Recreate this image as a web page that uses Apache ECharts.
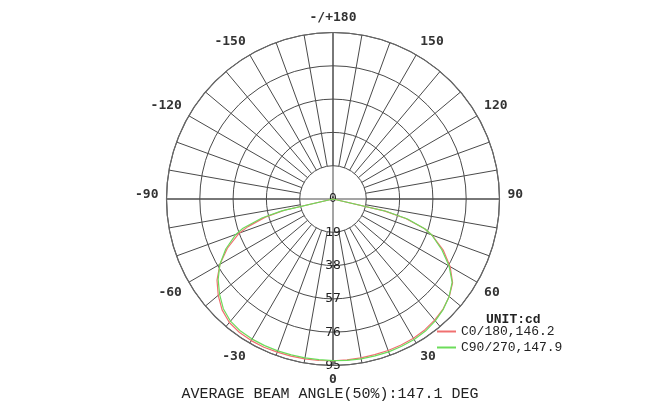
<!DOCTYPE html>
<html>
<head>
<meta charset="utf-8">
<script src="https://cdn.jsdelivr.net/npm/echarts@6/dist/echarts.min.js"></script>
<style>html,body{margin:0;padding:0;background:#fff;}#c{width:660px;height:410px;}</style>
</head>
<body>
<div id="c"></div>
<script>
// ---- data ----
const angles = [-90, -77, -75, -72, -70, -65, -60, -55, -50, -45, -40, -35, -30, -25, -20, -15, -10, -5, 0,
  5, 10, 15, 20, 25, 30, 35, 40, 45, 50, 55, 60, 65, 70, 72, 75, 77, 90];
const c0Values = [0, 28, 40, 51, 57, 66.5, 74.5, 80.8, 85.5, 89.5, 92, 93, 93.3, 93.3, 93, 92.8, 92.6, 92.5, 92.3,
  92.1, 92, 91.9, 92, 91.9, 91.8, 91.2, 90.2, 88.8, 86.6, 83.3, 77.2, 69.5, 60, 55, 43, 30, 0];
const c90Values = [0, 30, 42, 54, 59, 67.5, 74.5, 80, 84.5, 88.5, 91, 92, 92.3, 92.3, 92.2, 92.1, 92, 92, 92.2,
  92.4, 92.6, 92.7, 92.8, 92.7, 92.6, 92, 90.8, 89, 86.5, 83, 76.5, 68.5, 60, 55, 44, 31, 0];
const seriesNames = ['C0/180,146.2', 'C90/270,147.9'];
const seriesColors = ['#f07070', '#6cdc5a'];
const ringMax = 95;
const ringStep = 19;
const angleLabelStep = 30;
const spokeStep = 10;
const unitText = 'UNIT:cd';
const titleText = 'AVERAGE BEAM ANGLE(50%):147.1 DEG';

// ---- layout ----
const CX = 333, CY = 199, R = 166.5;
const R0 = R * ringStep / ringMax;
const gridColor = '#4a4a4a';

function toPolar(vals) { return vals.map((v, i) => [v, angles[i]]); }

const chart = echarts.init(document.getElementById('c'));
chart.setOption({
  backgroundColor: '#fff',
  animation: false,
  title: [
    { text: titleText, left: 'center', top: 382,
      textStyle: { fontFamily: 'Liberation Mono', fontSize: 15, fontWeight: 'normal', color: '#222' } },
    { text: unitText, left: 481, top: 308,
      textStyle: { fontFamily: 'Liberation Mono', fontSize: 13, fontWeight: 'bold', color: '#222' } }
  ],
  legend: {
    orient: 'vertical', left: 437, top: 325, itemWidth: 19, itemHeight: 2, itemGap: 3,
    icon: 'rect', padding: 0,
    textStyle: { fontFamily: 'Liberation Mono', fontSize: 13, color: '#222' },
    data: seriesNames.map((n, i) => ({ name: n, itemStyle: { color: seriesColors[i] } }))
  },
  polar: [
    { center: [CX, CY], radius: R },
    { center: [CX, CY], radius: [R0, R] },
    { center: [CX, CY], radius: R }
  ],
  angleAxis: [
    { polarIndex: 0, type: 'value', min: -180, max: 180, startAngle: 90, clockwise: false, interval: 90,
      axisLine: { show: true, lineStyle: { color: '#666', width: 1.2 } },
      axisTick: { show: false }, axisLabel: { show: false },
      splitLine: { show: true, lineStyle: { color: gridColor, width: 1 } } },
    { polarIndex: 1, type: 'value', min: -180, max: 180, startAngle: 90, clockwise: false, interval: spokeStep,
      axisLine: { show: false }, axisTick: { show: false },
      splitLine: { show: true, lineStyle: { color: gridColor, width: 1 } },
      axisLabel: {
        show: true, margin: 8, color: '#333', fontFamily: 'DejaVu Sans Mono', fontSize: 13, fontWeight: 'bold',
        formatter: function (v) {
          if (v % angleLabelStep !== 0) return '';
          if (v === -180) return '-/+180';
          if (v === 180) return '';
          if (Math.abs(v) === 90) return '{up|' + v + '}';
          return String(v);
        },
        rich: { up: { fontFamily: 'DejaVu Sans Mono', fontSize: 13, fontWeight: 'bold', color: '#333', padding: [0, 0, 9, 0] } }
      } },
    { polarIndex: 2, type: 'value', min: 0, max: 360, startAngle: 270, show: false }
  ],
  radiusAxis: [
    { polarIndex: 0, type: 'value', min: 0, max: ringMax, interval: ringStep,
      axisLine: { show: false }, axisTick: { show: false }, axisLabel: { show: false },
      splitLine: { show: true, lineStyle: { color: gridColor, width: 1 } } },
    { polarIndex: 1, type: 'value', min: 0, max: ringMax, show: false },
    { polarIndex: 2, type: 'value', min: 0, max: ringMax, interval: ringStep,
      axisLine: { show: false }, axisTick: { show: false }, splitLine: { show: false },
      axisLabel: { show: true, margin: 0, align: 'center', verticalAlign: 'middle',
        padding: [0, 0, 8, 0], color: '#222', fontFamily: 'DejaVu Sans Mono', fontSize: 13 } }
  ],
  series: [
    { name: seriesNames[0], type: 'line', coordinateSystem: 'polar', polarIndex: 0,
      data: toPolar(c0Values), showSymbol: false, symbol: 'none',
      lineStyle: { color: seriesColors[0], width: 1.2 }, itemStyle: { color: seriesColors[0] } },
    { name: seriesNames[1], type: 'line', coordinateSystem: 'polar', polarIndex: 0,
      data: toPolar(c90Values), showSymbol: false, symbol: 'none',
      lineStyle: { color: seriesColors[1], width: 1.2 }, itemStyle: { color: seriesColors[1] } }
  ]
});
</script>
</body>
</html>
